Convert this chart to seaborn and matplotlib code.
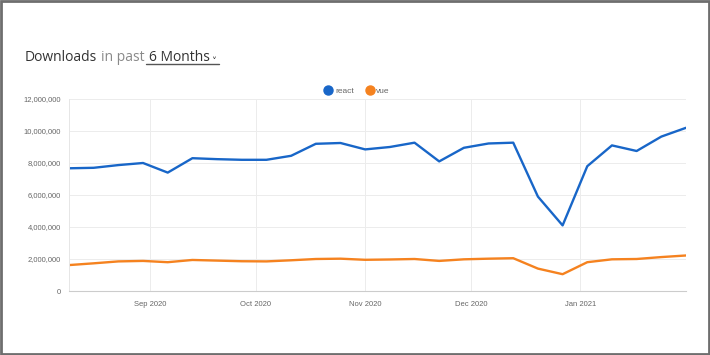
import matplotlib

matplotlib.use("Agg")
import matplotlib.pyplot as plt
import matplotlib.dates as mdates
import matplotlib.ticker as mticker
from matplotlib.patches import Rectangle
from matplotlib.lines import Line2D
import pandas as pd
import seaborn as sns

# weekly download counts (millions)
weeks = pd.date_range("2020-08-09", periods=26, freq="7D")
react = [7.67, 7.70, 7.87, 8.00, 7.40, 8.30, 8.24, 8.20, 8.20, 8.45,
         9.20, 9.25, 8.85, 9.00, 9.27, 8.10, 8.95, 9.22, 9.27, 5.90,
         4.10, 7.80, 9.10, 8.75, 9.65, 10.20]
vue = [1.62, 1.73, 1.85, 1.88, 1.80, 1.94, 1.90, 1.86, 1.85, 1.92,
       2.00, 2.02, 1.95, 1.97, 2.00, 1.88, 1.98, 2.02, 2.05, 1.40,
       1.05, 1.80, 1.98, 2.00, 2.12, 2.22]
packages = ["react", "vue"]
colors = {"react": "#1866c8", "vue": "#f5821f"}

df = pd.DataFrame({"week": weeks, "react": react, "vue": vue})
df = df.melt(id_vars="week", var_name="package", value_name="downloads")
df["downloads"] = df["downloads"] * 1e6

sns.set_theme(style="white")
plt.rcParams["font.family"] = ["Liberation Sans", "DejaVu Sans"]

fig = plt.figure(figsize=(7.1, 3.55), dpi=100)
ax = fig.add_axes([69 / 710, 1 - 291 / 355, 617 / 710, 192 / 355])

sns.lineplot(data=df, x="week", y="downloads", hue="package",
             palette=colors, linewidth=1.7, ax=ax, legend=False)

ax.set_ylim(0, 12e6)
ax.set_xlim(pd.Timestamp("2020-08-09"), pd.Timestamp("2021-01-31"))
ax.yaxis.set_major_locator(mticker.MultipleLocator(2e6))
ax.yaxis.set_major_formatter(mticker.FuncFormatter(lambda v, _: f"{v:,.0f}"))
ax.xaxis.set_major_locator(mdates.MonthLocator())
ax.xaxis.set_major_formatter(mdates.DateFormatter("%b %Y"))

ax.grid(True, color="#ececec", linewidth=0.7)
ax.set_xlabel("")
ax.set_ylabel("")
for side in ["top", "right"]:
    ax.spines[side].set_visible(False)
ax.spines["left"].set_color("#e6e6e6")
ax.spines["bottom"].set_color("#cccccc")
ax.spines["left"].set_linewidth(0.7)
ax.spines["bottom"].set_linewidth(0.8)
ax.tick_params(axis="both", labelsize=5.5, labelcolor="#666666",
               color="#dddddd", length=4, width=0.7, pad=2)
ax.tick_params(axis="x", pad=3)

handles = [Line2D([], [], marker="o", linestyle="", markersize=6.5,
                  markerfacecolor=colors[p], markeredgecolor=colors[p])
           for p in packages]
fig.legend(handles, packages, loc="center", bbox_to_anchor=(357 / 710, 1 - 91 / 355),
           ncol=2, frameon=False, fontsize=6, labelcolor="#666666",
           handletextpad=0.3, columnspacing=1.4, handlelength=1.0)

title_y = 1 - 57.5 / 355
title_font = ["Open Sans", "DejaVu Sans"]
fig.text(25 / 710, title_y, "Downloads", fontsize=10, color="#333333",
         va="center", family=title_font)
fig.text(101 / 710, title_y, "in past", fontsize=10, color="#8a8a8a",
         va="center", family=title_font)
fig.text(149 / 710, title_y, "6 Months", fontsize=10, color="#333333",
         va="center", family=title_font)
fig.text(211 / 710, 1 - 62 / 355, "\u02c5", fontsize=7, color="#333333",
         va="center", family=["DejaVu Sans"])
fig.add_artist(Line2D([146 / 710, 219 / 710], [1 - 64 / 355, 1 - 64 / 355],
                      color="#555555", linewidth=1.0))

fig.add_artist(Rectangle((0.001, 0.002), 0.997, 0.995, transform=fig.transFigure,
                         fill=False, edgecolor="#6e6e6e", linewidth=2.0))

fig.savefig("out.png", dpi=100)
